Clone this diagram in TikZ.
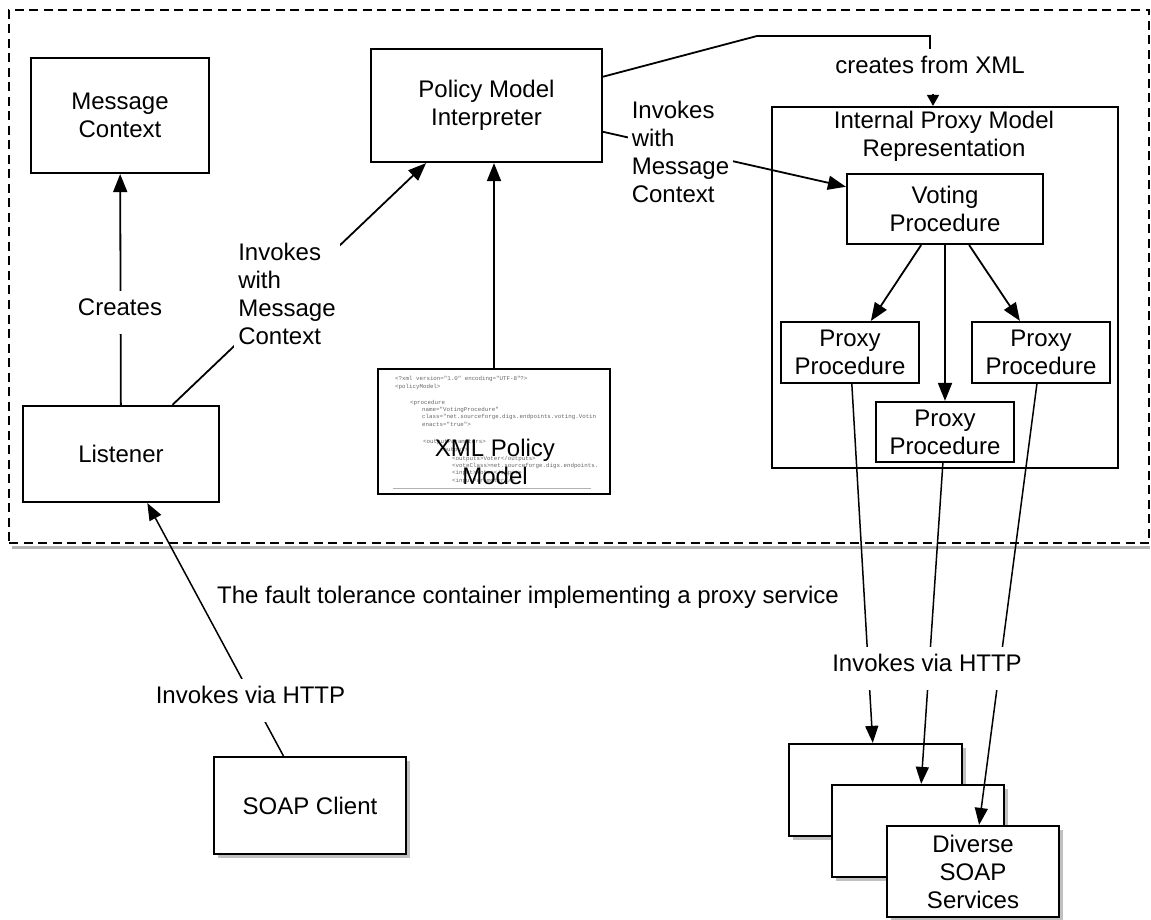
\documentclass[tikz,border=0pt]{standalone}
\usepackage{fontspec}
\setmainfont{Liberation Sans}
\setmonofont{Liberation Mono}
\usetikzlibrary{arrows.meta,shadows,calc}
\pgfdeclarelayer{conn}
\pgfdeclarelayer{lbls}
\pgfsetlayers{main,conn,lbls}
\begin{document}
\begin{tikzpicture}[x=1pt,y=-1pt,
  font=\fontsize{24}{28}\selectfont,
  box/.style={draw=black, line width=2.2pt, fill=white, align=center, inner sep=2pt},
  sbox/.style={box, drop shadow={shadow xshift=4pt, shadow yshift=-4pt, fill=black!45, opacity=0.55}},
  conn/.style={line width=1.8pt, -{Triangle[length=18pt,width=14pt]}},
  thinconn/.style={line width=1.5pt, -{Triangle[length=17pt,width=13pt]}},
  smallarrow/.style={line width=1.6pt, -{Triangle[length=11pt,width=12pt]}},
  plain/.style={line width=1.8pt},
  lbl/.style={fill=white, inner sep=3pt, text height=21.6pt, text depth=15.4pt, anchor=base},
  mlbl/.style={fill=white, align=left, inner sep=4pt},
  container/.style={draw=black, line width=1.8pt, dash pattern=on 9pt off 5.5pt},
  shadowline/.style={draw=black!30, line width=3.5pt},
  code/.style={font=\ttfamily\fontsize{5.8}{6}\selectfont, text=black!60, anchor=west, inner sep=0pt},
  scrollbar/.style={draw=black!30, line width=1pt}
]
\useasboundingbox (0,0) rectangle (1151,920);

% container
\node[container, minimum width=1140, minimum height=533] (container) at (579,276.5) {};
\draw[shadowline] ([xshift=4pt,yshift=-3.5pt]container.south west) -- ([yshift=-3.5pt]container.south east);

% boxes
\node[box, minimum width=178, minimum height=115] (msg) at (120,115.5) {Message\\Context};
\node[box, minimum width=196, minimum height=96] (listener) at (121,454) {Listener};
\node[box, minimum width=231, minimum height=113] (policy) at (486.5,105.5) {Policy Model\\Interpreter};
\node[box, minimum width=232, minimum height=125] (xml) at (494,431.5) {};
\node[code] (c1) at (395,379) {<?xml version="1.0" encoding="UTF-8"?>};
\node[code] (c2) at (395,387) {<policyModel>};
\node[code] (c3) at (410,403) {<procedure};
\node[code] (c4) at (422,410) {name="VotingProcedure"};
\node[code] (c5) at (422,417) {class="net.sourceforge.digs.endpoints.voting.Votin};
\node[code] (c6) at (422,424) {enacts="true">};
\node[code] (c7) at (423,442) {<outputParameters>};
\node[code] (c8) at (440,450) {<output>};
\node[code] (c9) at (452,459) {<outputs>Voter</outputs>};
\node[code] (c10) at (452,466) {<voteClass>net.sourceforge.digs.endpoints.};
\node[code] (c11) at (452,473) {<input>Voter</input>};
\node[code] (c12) at (452,481) {<inputParameters/>};
\draw[scrollbar] ([xshift=16pt,yshift=7pt]xml.south west) -- ([xshift=-20pt,yshift=7pt]xml.south east);
\node[align=center, inner sep=0pt] (xmllbl) at (495,461.5) {XML Policy\\Model};

\node[box, minimum width=346, minimum height=361] (iproxy) at (945,287.5) {};
\node[align=center, inner sep=0pt] (iptitle) at (944,136) {Internal Proxy Model\\Representation};
\node[box, minimum width=196, minimum height=70] (voting) at (945,209) {Voting\\Procedure};
\node[box, minimum width=138, minimum height=61] (pl) at (850,352.5) {Proxy\\Procedure};
\node[box, minimum width=138, minimum height=61] (pr) at (1041,352.5) {Proxy\\Procedure};
\node[box, minimum width=138, minimum height=60] (pm) at (945,432) {Proxy\\Procedure};

\node[sbox, minimum width=192, minimum height=97] (soap) at (310,805.5) {SOAP Client};
\node[sbox, minimum width=173, minimum height=92] (b1) at (875.5,790) {};
\node[sbox, minimum width=172, minimum height=92] (b2) at (918,831) {};
\node[sbox, minimum width=172, minimum height=91] (b3) at (973,871.5) {Diverse\\SOAP\\Services};

\node[inner sep=0pt] (ctitle) at (528,597) {The fault tolerance container implementing a proxy service};

% labels on top
\begin{pgfonlayer}{lbls}
\node[lbl] (createslbl) at (120,315.6) {Creates};
\node[mlbl] (inv1) at (287,293.5) {Invokes\\with\\Message\\Context};
\node[mlbl] (inv2) at (680.5,151.5) {Invokes\\with\\Message\\Context};
\node[lbl] (cfx) at (930,73.6) {creates from XML};
\node[lbl] (http1) at (250.5,703.6) {Invokes via HTTP};
\node[lbl] (http2) at (927,671.6) {Invokes via HTTP};
\end{pgfonlayer}

\coordinate (cfxa) at (933,94);
\coordinate (bend) at (757,36);

% connectors
\begin{pgfonlayer}{conn}
\draw[conn] (listener) -- (msg);
\draw[conn] (listener) -- (policy);
\draw[conn] (xml.north) -- (xml.north |- policy.south);
\draw[conn] (policy) -- (voting);
\draw[plain] ($(policy.north east)!0.25!(policy.south east)$) -- (bend) -| (cfx.north);
\draw[smallarrow] (cfxa) -- (cfxa |- iproxy.north);
\draw[conn] (voting) -- (pl);
\draw[conn] (voting) -- (pm);
\draw[conn] (voting) -- (pr);
\draw[thinconn] (soap) -- (listener);
\draw[thinconn] (pl) -- (b1);
\draw[thinconn] (pm) -- (b2);
\draw[thinconn] (pr) -- (b3);
\end{pgfonlayer}
\end{tikzpicture}
\end{document}
